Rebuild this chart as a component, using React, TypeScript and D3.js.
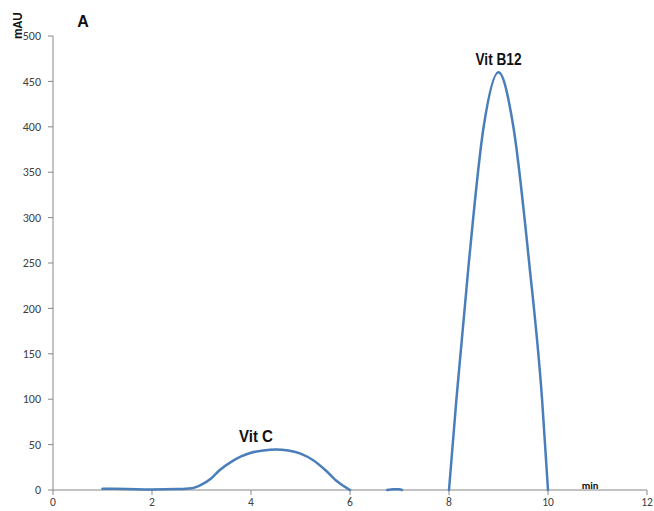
import React from 'react'
import * as d3 from 'd3'

// retention time (min) / absorbance (mAU)
const vitCTime = [1, 1.5, 2, 2.5, 2.8, 3, 3.2, 3.37, 3.6, 3.8, 4, 4.25, 4.5, 4.75, 5, 5.25, 5.5, 5.75, 6]
const vitCAbs = [1.5, 1, 0.5, 1, 2, 6, 13, 22, 31, 37, 41, 43.5, 44.5, 43.5, 40, 33, 22, 9, 0]
const bumpTime = [6.75, 6.88, 7, 7.05]
const bumpAbs = [0, 0.8, 0.8, 0]
const vitB12Time = [8, 8.15, 8.4, 8.7, 9, 9.3, 9.62, 9.88, 10]
const vitB12Abs = [0, 100, 250, 400, 460, 400, 250, 100, 0]

const xTicks = [0, 2, 4, 6, 8, 10, 12]
const yTicks = [0, 50, 100, 150, 200, 250, 300, 350, 400, 450, 500]

const peakLabels = [
  { name: 'Vit C', t: 4.1, v: 45, w: 34 },
  { name: 'Vit B12', t: 9, v: 460, w: 46 },
]

const W = 654
const H = 511

export default function App() {
  // plot area
  const left = 53
  const right = 647
  const top = 36
  const bottom = 490

  const x = d3.scaleLinear().domain([0, 12]).range([left, right])
  const y = d3.scaleLinear().domain([0, 500]).range([bottom, top])

  const line = d3.line<[number, number]>()
    .x(d => x(d[0]))
    .y(d => y(d[1]))
    .curve(d3.curveMonotoneX)

  const zip = (ts: number[], vs: number[]) => ts.map((t, i) => [t, vs[i]] as [number, number])
  const segments = [zip(vitCTime, vitCAbs), zip(bumpTime, bumpAbs), zip(vitB12Time, vitB12Abs)]

  const axisColor = '#878787'
  const tickFont = 'Calibri, Carlito, "Open Sans", "Liberation Sans", Arial, sans-serif'
  const labelFont = '"Liberation Sans", Arial, sans-serif'

  return (
    <svg width={W} height={H} style={{ position: 'absolute', left: 0, top: 0, background: '#fff' }}>
      {/* y axis */}
      <line x1={left} x2={left} y1={top} y2={bottom} stroke={axisColor} />
      {yTicks.map(t => (
        <g key={'y' + t}>
          <line x1={left - 5} x2={left} y1={y(t)} y2={y(t)} stroke={axisColor} />
          <text x={left - 12} y={y(t)} dy="0.35em" textAnchor="end" fontSize={12} fill="#404040" fontFamily={tickFont}>
            {t}
          </text>
        </g>
      ))}

      {/* x axis */}
      <line x1={left} x2={right} y1={bottom} y2={bottom} stroke={axisColor} />
      {xTicks.map(t => (
        <g key={'x' + t}>
          <line x1={x(t)} x2={x(t)} y1={bottom} y2={bottom + 5} stroke={axisColor} />
          <text x={x(t)} y={bottom + 16} textAnchor="middle" fontSize={11.5} fill="#404040" fontFamily={tickFont}>
            {t}
          </text>
        </g>
      ))}

      {/* chromatogram */}
      {segments.map((s, i) => (
        <path key={i} d={line(s) ?? ''} fill="none" stroke="#4a7ebb" strokeWidth={2.5} strokeLinejoin="round" strokeLinecap="round" />
      ))}

      {peakLabels.map(p => (
        <text key={p.name} x={x(p.t)} y={y(p.v) - 7} textAnchor="middle" fontSize={16} fontWeight="bold" fill="#111"
          fontFamily={labelFont} textLength={p.w} lengthAdjust="spacingAndGlyphs">
          {p.name}
        </text>
      ))}

      {/* axis titles */}
      <text transform={`translate(22,${top + 3}) rotate(-90)`} fontSize={13} fontWeight="bold" fill="#111" fontFamily={tickFont}>
        mAU
      </text>
      <text x={x(10.85)} y={bottom - 1} textAnchor="middle" fontSize={10.5} fontWeight="bold" fill="#111" fontFamily={tickFont}>
        min
      </text>
      <text x={83} y={27} textAnchor="middle" fontSize={16} fontWeight="bold" fill="#111" fontFamily={labelFont}>
        A
      </text>
    </svg>
  )
}
